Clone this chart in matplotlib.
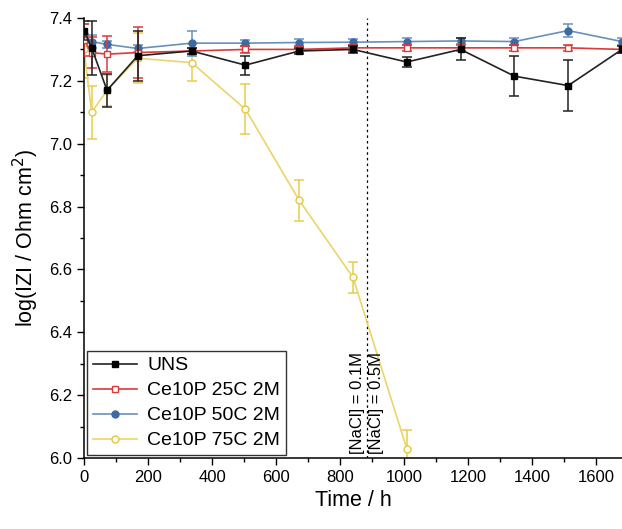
import matplotlib
matplotlib.use("Agg")
import matplotlib.pyplot as plt
from matplotlib.ticker import MultipleLocator
from matplotlib.lines import Line2D

plt.rcParams['font.family'] = ['Liberation Sans', 'DejaVu Sans']

time_h = [0, 24, 72, 168, 336, 504, 672, 840, 1008, 1176, 1344, 1512, 1680]

uns = [7.36, 7.305, 7.17, 7.28, 7.295, 7.25, 7.295, 7.30, 7.26, 7.30, 7.215, 7.185, 7.30]
uns_err = [0.03, 0.085, 0.053, 0.08, 0.01, 0.03, 0.01, 0.01, 0.015, 0.035, 0.063, 0.08, 0.01]

c25 = [7.33, 7.29, 7.285, 7.29, 7.295, 7.30, 7.30, 7.305, 7.305, 7.305, 7.305, 7.305, 7.30]
c25_err = [0.05, 0.05, 0.058, 0.08, 0.01, 0.01, 0.01, 0.01, 0.01, 0.01, 0.01, 0.01, 0.01]

c50 = [7.35, 7.325, 7.316, 7.303, 7.32, 7.32, 7.322, 7.323, 7.325, 7.327, 7.325, 7.36, 7.325]
c50_err = [0.03, 0.02, 0.01, 0.01, 0.04, 0.01, 0.01, 0.01, 0.01, 0.01, 0.01, 0.02, 0.01]

time_75 = [0, 24, 72, 168, 336, 504, 672, 840, 1008]
c75 = [7.30, 7.10, 7.17, 7.272, 7.258, 7.11, 6.82, 6.575, 6.03]
c75_err = [0.09, 0.085, 0.05, 0.08, 0.06, 0.08, 0.065, 0.05, 0.06]

labels = ["UNS", "Ce10P 25C 2M", "Ce10P 50C 2M", "Ce10P 75C 2M"]
nacl_change_h = 883
annot = ["[NaCl] = 0.1M", "[NaCl] = 0.5M"]

fig = plt.figure(figsize=(6.22, 5.29), dpi=100)
ax = fig.add_axes([0.135, 0.134, 0.865, 0.832])

ms = 5
kw = dict(capsize=3.5, elinewidth=1.1, capthick=1.1, lw=1.2, ms=ms)
styles = [
    dict(color='#222222', marker='s', mfc='black', mec='black'),
    dict(color='#d93a3a', marker='s', mfc='white', mec='#d93a3a'),
    dict(color='#6890bd', marker='o', mfc='#3e6aa2', mec='#3e6aa2'),
    dict(color='#ecd46a', marker='o', mfc='white', mec='#e4c840'),
]
ax.errorbar(time_75, c75, yerr=c75_err, ecolor='#e8cc50', zorder=2, **styles[3], **kw)
ax.errorbar(time_h, c50, yerr=c50_err, ecolor='#6890bd', zorder=3, **styles[2], **kw)
ax.errorbar(time_h, c25, yerr=c25_err, ecolor='#d93a3a', zorder=4, **styles[1], **kw)
ax.errorbar(time_h, uns, yerr=uns_err, ecolor='#222222', zorder=5, **styles[0], **kw)

ax.axvline(nacl_change_h, color='black', ls=(0, (2, 2.5)), lw=0.9, zorder=1)
ax.text(nacl_change_h - 7, 6.012, annot[0], rotation=90, ha='right', va='bottom', fontsize=12)
ax.text(nacl_change_h + 7, 6.012, annot[1], rotation=90, ha='left', va='bottom', fontsize=12)

ax.set_xlim(0, 1680)
ax.set_ylim(6.0, 7.4)
ax.xaxis.set_major_locator(MultipleLocator(200))
ax.xaxis.set_minor_locator(MultipleLocator(100))
ax.yaxis.set_major_locator(MultipleLocator(0.2))
ax.yaxis.set_minor_locator(MultipleLocator(0.1))
ax.tick_params(which='both', direction='out', labelsize=12)
ax.tick_params(which='major', length=5, width=1)
ax.tick_params(which='minor', length=3, width=1)
ax.spines['top'].set_visible(False)
ax.spines['right'].set_visible(False)
for s in ['left', 'bottom']:
    ax.spines[s].set_linewidth(1.1)
ax.set_xlabel("Time / h", fontsize=15.5)
ax.set_ylabel("log(IZI / Ohm cm$^2$)", fontsize=15.5, labelpad=6)

handles = [Line2D([], [], lw=1.2, ms=ms, **st) for st in styles]
leg = ax.legend(handles, labels, loc='lower left',
                fontsize=14, frameon=True, fancybox=False, edgecolor='black',
                handlelength=2.3, borderaxespad=0.15, labelspacing=0.38, handletextpad=0.5,
                borderpad=0.3)
leg.get_frame().set_linewidth(1.0)

fig.savefig("out.png", dpi=100)
